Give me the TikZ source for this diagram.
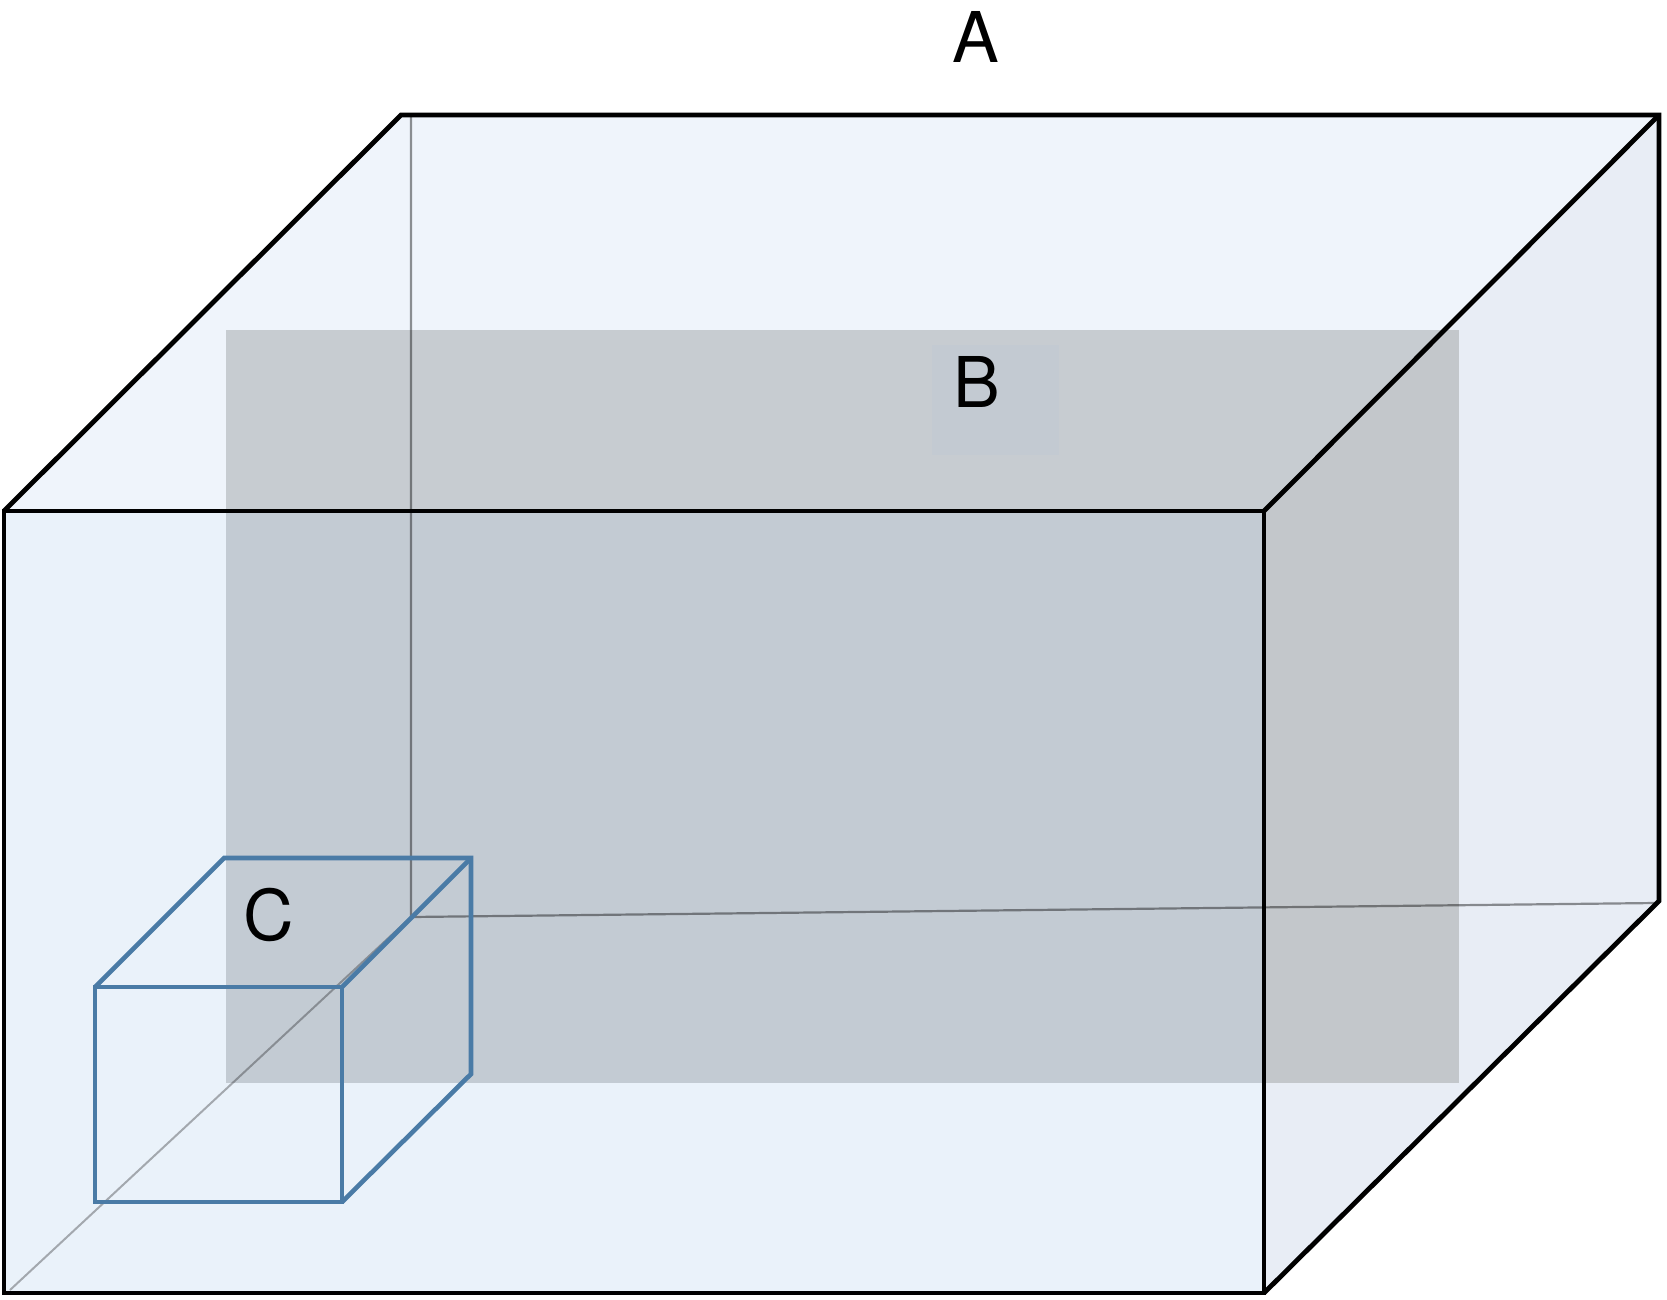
\documentclass[tikz,border=0pt]{standalone}
\usepackage{fontspec}
\setmainfont{TeX Gyre Heros}
\definecolor{topface}{HTML}{EFF4FB}
\definecolor{frontface}{HTML}{EAF2FA}
\definecolor{sideface}{HTML}{E8EDF5}
\definecolor{graytop}{HTML}{C7CCD1}
\definecolor{grayfront}{HTML}{C3CBD3}
\definecolor{grayside}{HTML}{C3C7CB}
\definecolor{labelpatch}{HTML}{C3CAD2}
\definecolor{smallblue}{HTML}{4A7BA6}
\tikzset{
  bigedge/.style={draw=black,line width=4.8pt,line join=miter},
  smalledge/.style={draw=smallblue,line width=4.6pt,line join=miter},
  hiddenedge/.style={draw=black,draw opacity=.42,line width=2.2pt},
  floordiag/.style={draw=black,draw opacity=.3,line width=2pt},
  letter/.style={font=\fontsize{70}{70}\selectfont,inner sep=0pt,text=black}
}
\begin{document}
\begin{tikzpicture}[x=1pt,y=-1pt]
\useasboundingbox (0,0) rectangle (1667,1299);
% large box
\coordinate (ftl) at (4,511);
\coordinate (ftr) at (1264,511);
\coordinate (fbr) at (1264,1293);
\coordinate (fbl) at (4,1293);
\coordinate (btl) at (401,115);
\coordinate (btr) at (1659,115);
\coordinate (bbr) at (1659,901);
\coordinate (bin) at (411,917);
\coordinate (vtop) at (411,115);
\coordinate (hend) at (1655,903);
\coordinate (dstart) at (10,1290);
% faces
\fill[topface] (btl) -- (btr) -- (ftr) -- (ftl) -- cycle;
\fill[sideface] (ftr) -- (btr) -- (bbr) -- (fbr) -- cycle;
\fill[frontface] (ftl) -- (ftr) -- (fbr) -- (fbl) -- cycle;
% grey plane seen through each face
\begin{scope}
  \clip (btl) -- (btr) -- (ftr) -- (ftl) -- cycle;
  \fill[graytop] (225.5,330) rectangle (1459,1083);
  \fill[labelpatch] (932,345) rectangle (1059,455);
\end{scope}
\begin{scope}
  \clip (ftr) -- (btr) -- (bbr) -- (fbr) -- cycle;
  \fill[grayside] (225.5,330) rectangle (1459,1083);
\end{scope}
\begin{scope}
  \clip (ftl) -- (ftr) -- (fbr) -- (fbl) -- cycle;
  \fill[grayfront] (225.5,330) rectangle (1459,1083);
\end{scope}
% hidden edges
\draw[hiddenedge] (vtop) -- (bin) -- (hend);
\draw[floordiag] (dstart) -- (bin);
% visible large box edges
\draw[bigedge] (ftl) -- (ftr) -- (fbr) -- (fbl) -- cycle;
\draw[bigedge] (ftl) -- (btl) -- (btr) -- (bbr) -- (fbr);
\draw[bigedge] (ftr) -- (btr);
% small box
\coordinate (sftl) at (95,987);
\coordinate (sftr) at (342,987);
\coordinate (sfbr) at (342,1202);
\coordinate (sfbl) at (95,1202);
\coordinate (sbtl) at (224,858);
\coordinate (sbtr) at (471,858);
\coordinate (sbbr) at (471,1074);
\draw[smalledge] (sftl) -- (sftr) -- (sfbr) -- (sfbl) -- cycle;
\draw[smalledge] (sftl) -- (sbtl) -- (sbtr) -- (sbbr) -- (sfbr);
\draw[smalledge] (sftr) -- (sbtr);
% labels
\node[letter] (la) at (976,37) {A};
\node[letter] (lb) at (977,382) {B};
\node[letter] (lc) at (269,915) {C};
\end{tikzpicture}
\end{document}
